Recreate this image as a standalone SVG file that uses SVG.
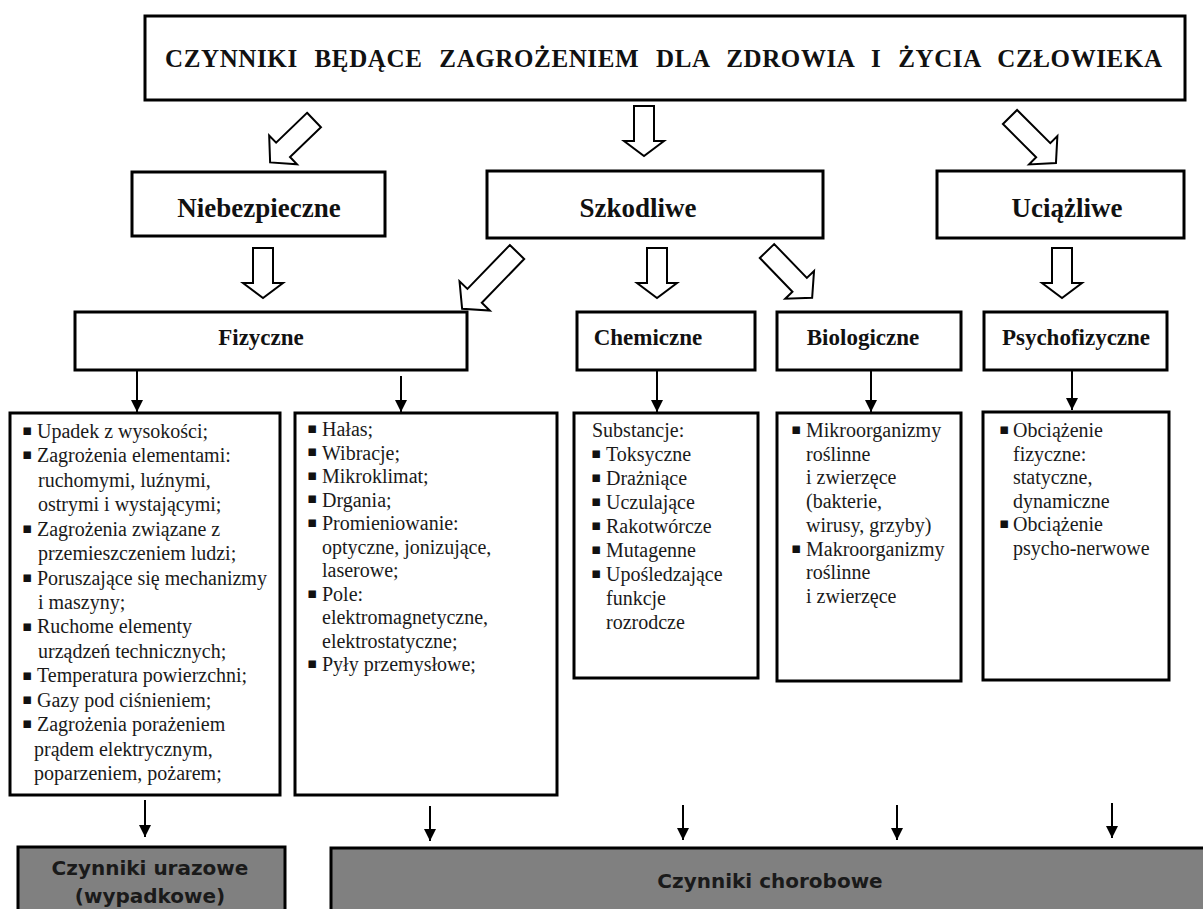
<svg xmlns="http://www.w3.org/2000/svg" width="1203" height="909" viewBox="0 0 1203 909">
<style>
.box{fill:#fff;stroke:#000;stroke-width:3}
.gray{fill:#808080;stroke:#000;stroke-width:3}
.blk{fill:#fff;stroke:#000;stroke-width:2;stroke-linejoin:miter}
.thin{stroke:#000;stroke-width:2;fill:none}
.ttl{font-family:"Liberation Serif","Times New Roman",serif;font-weight:bold;font-size:25px;fill:#111;word-spacing:10px}
.h2{font-family:"Liberation Serif","Times New Roman",serif;font-weight:bold;font-size:27px;fill:#111;text-anchor:middle}
.h3{font-family:"Liberation Serif","Times New Roman",serif;font-weight:bold;font-size:23px;fill:#111;text-anchor:middle}
.li{font-family:"Liberation Serif","Times New Roman",serif;font-size:20px;fill:#1a1a1a}
.bu{font-family:"DejaVu Sans",sans-serif;font-size:15px;fill:#111}
.sn{font-family:"DejaVu Sans",Verdana,sans-serif;font-weight:bold;font-size:20px;fill:#1a1a1a;text-anchor:middle}
</style>
<defs>
<marker id="ah" markerUnits="userSpaceOnUse" markerWidth="12" markerHeight="12" refX="12" refY="6" orient="auto">
<path d="M0,0 L12,6 L0,12 Z" fill="#000"/>
</marker>
</defs>

<g id="connectors">
<path class="blk" transform="translate(314,120) rotate(46)" d="M-10,0 H10 V43 H20 L0,61 L-20,43 H-10 Z"/>
<path class="blk" transform="translate(644,106)" d="M-10,0 H10 V35 H20 L0,50 L-20,35 H-10 Z"/>
<path class="blk" transform="translate(1010,117) rotate(-45)" d="M-10,0 H10 V47 H20 L0,65 L-20,47 H-10 Z"/>
<path class="blk" transform="translate(263,248)" d="M-10,0 H10 V35 H20 L0,50 L-20,35 H-10 Z"/>
<path class="blk" transform="translate(517,252) rotate(44)" d="M-10,0 H10 V61 H21 L0,79 L-21,61 H-10 Z"/>
<path class="blk" transform="translate(657,248)" d="M-10,0 H10 V35 H20 L0,50 L-20,35 H-10 Z"/>
<path class="blk" transform="translate(767,251) rotate(-44)" d="M-10,0 H10 V47 H20 L0,65 L-20,47 H-10 Z"/>
<path class="blk" transform="translate(1062,248)" d="M-10,0 H10 V35 H20 L0,50 L-20,35 H-10 Z"/>
<line class="thin" x1="137" y1="371" x2="137" y2="412" marker-end="url(#ah)"/>
<line class="thin" x1="401" y1="376" x2="401" y2="412" marker-end="url(#ah)"/>
<line class="thin" x1="657" y1="371" x2="657" y2="412" marker-end="url(#ah)"/>
<line class="thin" x1="871" y1="371" x2="871" y2="412" marker-end="url(#ah)"/>
<line class="thin" x1="1072" y1="371" x2="1072" y2="410" marker-end="url(#ah)"/>
<line class="thin" x1="145" y1="800" x2="145" y2="837" marker-end="url(#ah)"/>
<line class="thin" x1="430" y1="806" x2="430" y2="841" marker-end="url(#ah)"/>
<line class="thin" x1="683" y1="805" x2="683" y2="840" marker-end="url(#ah)"/>
<line class="thin" x1="897" y1="805" x2="897" y2="840" marker-end="url(#ah)"/>
<line class="thin" x1="1112" y1="803" x2="1112" y2="838" marker-end="url(#ah)"/>
</g>

<g id="title">
<rect class="box" x="145" y="16" width="1040" height="84"/>
<text class="ttl" x="165" y="67" textLength="997" lengthAdjust="spacing">CZYNNIKI BĘDĄCE ZAGROŻENIEM DLA ZDROWIA I ŻYCIA CZŁOWIEKA</text>
</g>

<g id="niebezpieczne">
<rect class="box" x="132" y="172" width="253" height="64"/>
<text class="h2" x="259" y="217">Niebezpieczne</text>
</g>
<g id="szkodliwe">
<rect class="box" x="487" y="171" width="336" height="67"/>
<text class="h2" x="638" y="217">Szkodliwe</text>
</g>
<g id="uciazliwe">
<rect class="box" x="937" y="171" width="247" height="67"/>
<text class="h2" x="1067" y="217">Uciążliwe</text>
</g>

<g id="fizyczne">
<rect class="box" x="75" y="312" width="392" height="58"/>
<text class="h3" x="261" y="345">Fizyczne</text>
</g>
<g id="chemiczne">
<rect class="box" x="577" y="312" width="178" height="58"/>
<text class="h3" x="648" y="345">Chemiczne</text>
</g>
<g id="biologiczne">
<rect class="box" x="777" y="312" width="184" height="58"/>
<text class="h3" x="863" y="345">Biologiczne</text>
</g>
<g id="psychofizyczne">
<rect class="box" x="984" y="312" width="183" height="58"/>
<text class="h3" x="1076" y="345">Psychofizyczne</text>
</g>

<g id="lista-fizyczne-1">
<rect class="box" x="10" y="413" width="270" height="382"/>
<text class="bu" x="22" y="435">▪</text><text class="li" x="37" y="438">Upadek z wysokości;</text>
<text class="bu" x="22" y="459">▪</text><text class="li" x="37" y="462.4">Zagrożenia elementami:</text>
<text class="li" x="38" y="486.9">ruchomymi, luźnymi,</text>
<text class="li" x="38" y="511.3">ostrymi i wystającymi;</text>
<text class="bu" x="22" y="533">▪</text><text class="li" x="37" y="535.7">Zagrożenia związane z</text>
<text class="li" x="38" y="560.1">przemieszczeniem ludzi;</text>
<text class="bu" x="22" y="582">▪</text><text class="li" x="37" y="584.6">Poruszające się mechanizmy</text>
<text class="li" x="38" y="609">i maszyny;</text>
<text class="bu" x="22" y="631">▪</text><text class="li" x="37" y="633.4">Ruchome elementy</text>
<text class="li" x="38" y="657.9">urządzeń technicznych;</text>
<text class="bu" x="22" y="680">▪</text><text class="li" x="37" y="682.3">Temperatura powierzchni;</text>
<text class="bu" x="22" y="704">▪</text><text class="li" x="37" y="706.7">Gazy pod ciśnieniem;</text>
<text class="bu" x="22" y="728">▪</text><text class="li" x="37" y="731.1">Zagrożenia porażeniem</text>
<text class="li" x="34" y="755.6">prądem elektrycznym,</text>
<text class="li" x="34" y="780">poparzeniem, pożarem;</text>
</g>

<g id="lista-fizyczne-2">
<rect class="box" x="295" y="413" width="262" height="382"/>
<text class="bu" x="307" y="433">▪</text><text class="li" x="322" y="436">Hałas;</text>
<text class="bu" x="307" y="456">▪</text><text class="li" x="322" y="459.5">Wibracje;</text>
<text class="bu" x="307" y="480">▪</text><text class="li" x="322" y="483">Mikroklimat;</text>
<text class="bu" x="307" y="503">▪</text><text class="li" x="322" y="506.5">Drgania;</text>
<text class="bu" x="307" y="527">▪</text><text class="li" x="322" y="530">Promieniowanie:</text>
<text class="li" x="322" y="553.5">optyczne, jonizujące,</text>
<text class="li" x="322" y="577">laserowe;</text>
<text class="bu" x="307" y="598">▪</text><text class="li" x="322" y="600.5">Pole:</text>
<text class="li" x="322" y="624">elektromagnetyczne,</text>
<text class="li" x="322" y="647.5">elektrostatyczne;</text>
<text class="bu" x="307" y="668">▪</text><text class="li" x="322" y="671">Pyły przemysłowe;</text>
</g>

<g id="lista-chemiczne">
<rect class="box" x="574" y="413" width="184" height="265"/>
<text class="li" x="592" y="437">Substancje:</text>
<text class="bu" x="591" y="458">▪</text><text class="li" x="606" y="461">Toksyczne</text>
<text class="bu" x="591" y="482">▪</text><text class="li" x="606" y="485">Drażniące</text>
<text class="bu" x="591" y="506">▪</text><text class="li" x="606" y="509">Uczulające</text>
<text class="bu" x="591" y="530">▪</text><text class="li" x="606" y="533">Rakotwórcze</text>
<text class="bu" x="591" y="554">▪</text><text class="li" x="606" y="557">Mutagenne</text>
<text class="bu" x="591" y="578">▪</text><text class="li" x="606" y="581">Upośledzające</text>
<text class="li" x="606" y="605">funkcje</text>
<text class="li" x="606" y="629">rozrodcze</text>
</g>

<g id="lista-biologiczne">
<rect class="box" x="777" y="413" width="184" height="268"/>
<text class="bu" x="791" y="434">▪</text><text class="li" x="806" y="437">Mikroorganizmy</text>
<text class="li" x="806" y="460.7">roślinne</text>
<text class="li" x="806" y="484.4">i zwierzęce</text>
<text class="li" x="806" y="508.1">(bakterie,</text>
<text class="li" x="806" y="531.8">wirusy, grzyby)</text>
<text class="bu" x="791" y="552.5">▪</text><text class="li" x="806" y="555.5">Makroorganizmy</text>
<text class="li" x="806" y="579.2">roślinne</text>
<text class="li" x="806" y="602.9">i zwierzęce</text>
</g>

<g id="lista-psychofizyczne">
<rect class="box" x="983" y="412" width="186" height="268"/>
<text class="bu" x="999" y="434">▪</text><text class="li" x="1013" y="437">Obciążenie</text>
<text class="li" x="1013" y="460.6">fizyczne:</text>
<text class="li" x="1013" y="484.2">statyczne,</text>
<text class="li" x="1013" y="507.8">dynamiczne</text>
<text class="bu" x="999" y="528.4">▪</text><text class="li" x="1013" y="531.4">Obciążenie</text>
<text class="li" x="1013" y="555">psycho-nerwowe</text>
</g>

<g id="urazowe">
<rect class="gray" x="18" y="847" width="267" height="80"/>
<text class="sn" x="150" y="875">Czynniki urazowe</text>
<text class="sn" x="150" y="903">(wypadkowe)</text>
</g>
<g id="chorobowe">
<rect class="gray" x="331" y="848" width="890" height="80"/>
<text class="sn" x="770" y="888">Czynniki chorobowe</text>
</g>
</svg>
